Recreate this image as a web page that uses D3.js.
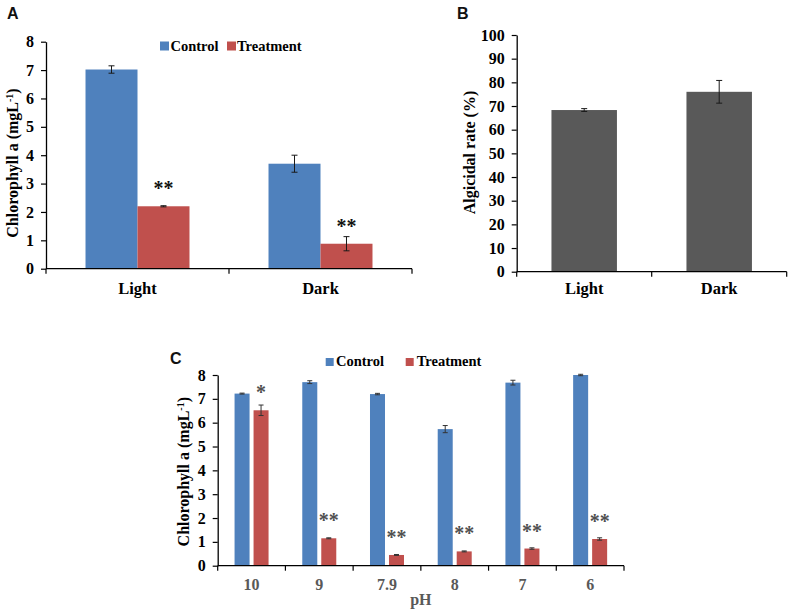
<!DOCTYPE html>
<html>
<head>
<meta charset="utf-8">
<script src="https://cdn.jsdelivr.net/npm/d3@7"></script>
<style>
  body { margin: 0; background: #fff; }
  svg { display: block; }
</style>
</head>
<body>
<svg id="chart" width="794" height="610" font-family="'Liberation Serif', 'Times New Roman', serif"></svg>
<script>
// ---------- DATA ----------
const seriesNames = ["Control", "Treatment"];
const seriesColors = ["#4F81BD", "#C0504D"];

// Panel A
const catsA = ["Light", "Dark"];
const controlA = [7.02, 3.70];
const controlAErr = [0.13, 0.30];
const treatA = [2.20, 0.88];
const treatAErr = [0.02, 0.25];
const sigA = ["**", "**"];
const ticksA = [0, 1, 2, 3, 4, 5, 6, 7, 8];

// Panel B
const catsB = ["Light", "Dark"];
const rateB = [68.3, 76.0];
const rateBErr = [0.6, 4.8];
const ticksB = [0, 10, 20, 30, 40, 50, 60, 70, 80, 90, 100];

// Panel C
const catsC = ["10", "9", "7.9", "8", "7", "6"];
const controlC = [7.22, 7.70, 7.20, 5.73, 7.68, 8.00];
const controlCErr = [0.02, 0.06, 0.03, 0.15, 0.10, 0.03];
const treatC = [6.52, 1.15, 0.45, 0.60, 0.72, 1.12];
const treatCErr = [0.22, 0.02, 0.02, 0.02, 0.03, 0.05];
const sigC = ["*", "**", "**", "**", "**", "**"];
const ticksC = [0, 1, 2, 3, 4, 5, 6, 7, 8];

const SERIF = "'Liberation Serif', 'Times New Roman', serif";
const SANS = "'Liberation Sans', Arial, sans-serif";
const svg = d3.select("#chart");

function yAxis(g, y, ticks) {
  const ax = d3.axisLeft(y).tickValues(ticks).tickSize(5).tickSizeOuter(0).tickPadding(7);
  g.call(ax);
  g.select(".domain").attr("stroke", "#000").attr("stroke-width", 1.3);
  g.selectAll(".tick line").attr("stroke", "#000").attr("stroke-width", 1.2);
  g.selectAll(".tick text")
    .style("font-family", SERIF)
    .attr("font-weight", "bold").attr("font-size", 16).attr("fill", "#000");
}

function xAxisLine(g, x, y0, tickLen) {
  const r = x.range();
  g.append("line").attr("x1", r[0]).attr("x2", r[1]).attr("y1", y0).attr("y2", y0)
    .attr("stroke", "#000").attr("stroke-width", 1.3);
  const bounds = x.domain().map(d => x(d)).concat([x(x.domain()[x.domain().length - 1]) + x.bandwidth()]);
  g.selectAll("line.xt").data(bounds).enter().append("line").attr("class", "xt")
    .attr("x1", d => d).attr("x2", d => d).attr("y1", y0).attr("y2", y0 + tickLen)
    .attr("stroke", "#000").attr("stroke-width", 1.2);
}

function errBar(g, cx, yTop, yBot, cap, color) {
  g.append("line").attr("x1", cx).attr("x2", cx).attr("y1", yTop).attr("y2", yBot)
    .attr("stroke", color).attr("stroke-width", 1);
  g.append("line").attr("x1", cx - cap / 2).attr("x2", cx + cap / 2).attr("y1", yTop).attr("y2", yTop)
    .attr("stroke", color).attr("stroke-width", 1);
  g.append("line").attr("x1", cx - cap / 2).attr("x2", cx + cap / 2).attr("y1", yBot).attr("y2", yBot)
    .attr("stroke", color).attr("stroke-width", 1);
}

function panelLabel(txt, x, y) {
  svg.append("text").attr("x", x).attr("y", y).text(txt)
    .style("font-family", SANS)
    .attr("font-weight", "bold").attr("font-size", 16).attr("fill", "#111");
}

function yLabel(parts, x, y) {
  const t = svg.append("text").attr("transform", `translate(${x},${y}) rotate(-90)`)
    .style("font-family", SERIF)
    .attr("text-anchor", "middle").attr("font-weight", "bold").attr("font-size", 16).attr("fill", "#000");
  parts.forEach(p => {
    const ts = t.append("tspan").text(p.t);
    if (p.sup) ts.attr("font-size", 10).attr("baseline-shift", "super");
  });
}

function legend(items, y, color) {
  items.forEach(it => {
    svg.append("rect").attr("x", it.sx).attr("y", y - it.size + 0.5).attr("width", it.size).attr("height", it.size).attr("fill", it.color);
    svg.append("text").attr("x", it.tx).attr("y", y + 0.5).text(it.name)
      .style("font-family", SERIF)
      .attr("font-weight", "bold").attr("font-size", 14.5).attr("fill", color || "#000");
  });
}

// ---------- PANEL A ----------
{
  const g = svg.append("g");
  const x0 = d3.scaleBand().domain(catsA).range([46, 412]).padding(0);
  const x1 = d3.scaleBand().domain(seriesNames).range([0, x0.bandwidth()]).paddingInner(0).paddingOuter(0.76);
  const y = d3.scaleLinear().domain([0, 8]).range([268.7, 41.7]);
  const vals = [controlA, treatA], errs = [controlAErr, treatAErr];
  seriesNames.forEach((s, si) => {
    catsA.forEach((c, ci) => {
      const bx = x0(c) + x1(s);
      g.append("rect").attr("x", bx).attr("y", y(vals[si][ci])).attr("width", x1.bandwidth())
        .attr("height", y(0) - y(vals[si][ci])).attr("fill", seriesColors[si]);
    });
  });
  seriesNames.forEach((s, si) => {
    catsA.forEach((c, ci) => {
      const cx = x0(c) + x1(s) + x1.bandwidth() / 2;
      errBar(g, cx, y(vals[si][ci] + errs[si][ci]), y(vals[si][ci] - errs[si][ci]), 6, "#1a1a1a");
    });
  });
  catsA.forEach((c, ci) => {
    g.append("text").attr("x", x0(c) + x1("Treatment") + x1.bandwidth() / 2)
      .attr("y", y(treatA[ci]) - 11).attr("text-anchor", "middle").style("font-family", SERIF)
      .attr("font-weight", "bold").attr("font-size", 20).attr("fill", "#111").text(sigA[ci]);
  });
  yAxis(g.append("g").attr("transform", "translate(46,0)"), y, ticksA);
  xAxisLine(g, x0, y(0), 5);
  g.selectAll("text.xl").data(catsA).enter().append("text").attr("class", "xl")
    .attr("x", d => x0(d) + x0.bandwidth() / 2).attr("y", y(0) + 25).attr("text-anchor", "middle")
    .style("font-family", SERIF)
    .attr("font-weight", "bold").attr("font-size", 16.5).attr("fill", "#000").text(d => d);
  yLabel([{ t: "Chlorophyll a (mgL" }, { t: "-1", sup: true }, { t: ")" }], 17.5, 163);
  legend([
    { sx: 160, size: 9, tx: 170.5, name: "Control", color: seriesColors[0] },
    { sx: 227, size: 9, tx: 237, name: "Treatment", color: seriesColors[1] }
  ], 50);
  panelLabel("A", 7, 19);
}

// ---------- PANEL B ----------
{
  const g = svg.append("g");
  const x = d3.scaleBand().domain(catsB).range([516.7, 786.7]).padding(0);
  const y = d3.scaleLinear().domain([0, 100]).range([271.7, 35]);
  const f = 0.485;
  catsB.forEach((c, ci) => {
    const bw = x.bandwidth() * f;
    const bx = x(c) + (x.bandwidth() - bw) / 2;
    g.append("rect").attr("x", bx).attr("y", y(rateB[ci])).attr("width", bw)
      .attr("height", y(0) - y(rateB[ci])).attr("fill", "#595959");
    errBar(g, x(c) + x.bandwidth() / 2, y(rateB[ci] + rateBErr[ci]), y(rateB[ci] - rateBErr[ci]), 6, "#1a1a1a");
  });
  yAxis(g.append("g").attr("transform", "translate(516.7,0)"), y, ticksB);
  xAxisLine(g, x, y(0), 5);
  g.selectAll("text.xl").data(catsB).enter().append("text").attr("class", "xl")
    .attr("x", d => x(d) + x.bandwidth() / 2).attr("y", y(0) + 22).attr("text-anchor", "middle")
    .style("font-family", SERIF)
    .attr("font-weight", "bold").attr("font-size", 16.5).attr("fill", "#000").text(d => d);
  yLabel([{ t: "Algicidal rate (%)" }], 475, 152.5);
  panelLabel("B", 457, 19);
}

// ---------- PANEL C ----------
{
  const g = svg.append("g");
  const x0 = d3.scaleBand().domain(catsC).range([217.7, 624]).padding(0);
  const grp = 34;
  const x1 = d3.scaleBand().domain(seriesNames).range([0, grp]).paddingInner(0.21).paddingOuter(0);
  const off = (x0.bandwidth() - grp) / 2;
  const y = d3.scaleLinear().domain([0, 8]).range([565.7, 375]);
  const vals = [controlC, treatC], errs = [controlCErr, treatCErr];
  seriesNames.forEach((s, si) => {
    catsC.forEach((c, ci) => {
      const bx = x0(c) + off + x1(s);
      g.append("rect").attr("x", bx).attr("y", y(vals[si][ci])).attr("width", x1.bandwidth())
        .attr("height", y(0) - y(vals[si][ci])).attr("fill", seriesColors[si]);
      errBar(g, bx + x1.bandwidth() / 2, y(vals[si][ci] + errs[si][ci]), y(vals[si][ci] - errs[si][ci]), 5, "#333");
    });
  });
  catsC.forEach((c, ci) => {
    g.append("text").attr("x", x0(c) + off + x1("Treatment") + x1.bandwidth() / 2)
      .attr("y", y(treatC[ci]) - 11).attr("text-anchor", "middle").style("font-family", SERIF)
      .attr("font-weight", "bold").attr("font-size", 20).attr("fill", "#505050").text(sigC[ci]);
  });
  yAxis(g.append("g").attr("transform", "translate(217.7,0)"), y, ticksC);
  xAxisLine(g, x0, y(0), 5);
  g.selectAll("text.xl").data(catsC).enter().append("text").attr("class", "xl")
    .attr("x", d => x0(d) + x0.bandwidth() / 2).attr("y", y(0) + 24).attr("text-anchor", "middle")
    .style("font-family", SERIF)
    .attr("font-weight", "bold").attr("font-size", 16).attr("fill", "#595959").text(d => d);
  g.append("text").attr("x", (x0.range()[0] + x0.range()[1]) / 2).attr("y", 605).attr("text-anchor", "middle")
    .style("font-family", SERIF)
    .attr("font-weight", "bold").attr("font-size", 16).attr("fill", "#595959").text("pH");
  yLabel([{ t: "Chlorophyll a (mgL" }, { t: "-1", sup: true }, { t: ")" }], 188.5, 471.7);
  legend([
    { sx: 325.7, size: 8, tx: 336, name: "Control", color: seriesColors[0] },
    { sx: 405.7, size: 8, tx: 416.7, name: "Treatment", color: seriesColors[1] }
  ], 365.5);
  panelLabel("C", 170, 364);
}
</script>
</body>
</html>
